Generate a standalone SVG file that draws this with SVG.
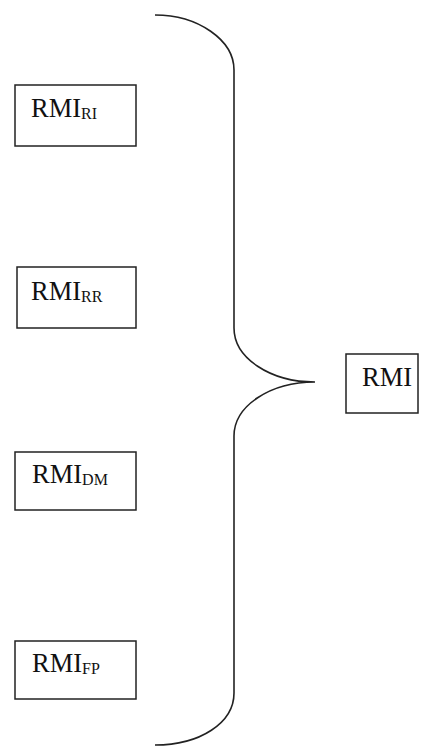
<svg xmlns="http://www.w3.org/2000/svg" width="424" height="747" viewBox="0 0 424 747">
  <style>
    .box { fill: #fff; stroke: #222; stroke-width: 1.5; }
    .lbl { font-family: "Liberation Serif", "Times New Roman", serif; font-size: 26.5px; fill: #111; }
    .sub { font-size: 16px; }
    .brace { fill: none; stroke: #222; stroke-width: 1.6; }
  </style>
  <rect width="424" height="747" fill="#fff"/>

  <g id="connectors">
    <!-- curly brace joining the four components to the overall index -->
    <path class="brace" d="M155,15 C198,15 234,40 234,70 L234,328 C234,358 270,382 315,382 C270,382 234,406 234,436 L234,693 C234,723 200,745 155,745"/>
  </g>

  <g id="rmi-ri">
    <rect class="box" x="15" y="85" width="121" height="61"/>
    <text class="lbl" x="31" y="117">RMI<tspan class="sub" dy="2">RI</tspan></text>
  </g>

  <g id="rmi-rr">
    <rect class="box" x="17" y="267" width="119" height="61"/>
    <text class="lbl" x="31" y="300">RMI<tspan class="sub" dy="2">RR</tspan></text>
  </g>

  <g id="rmi-dm">
    <rect class="box" x="15" y="452" width="121" height="58"/>
    <text class="lbl" x="32" y="483">RMI<tspan class="sub" dy="2">DM</tspan></text>
  </g>

  <g id="rmi-fp">
    <rect class="box" x="15" y="641" width="121" height="58"/>
    <text class="lbl" x="32" y="672">RMI<tspan class="sub" dy="2">FP</tspan></text>
  </g>

  <g id="rmi">
    <rect class="box" x="346" y="354" width="72" height="59"/>
    <text class="lbl" x="362" y="386">RMI</text>
  </g>
</svg>
